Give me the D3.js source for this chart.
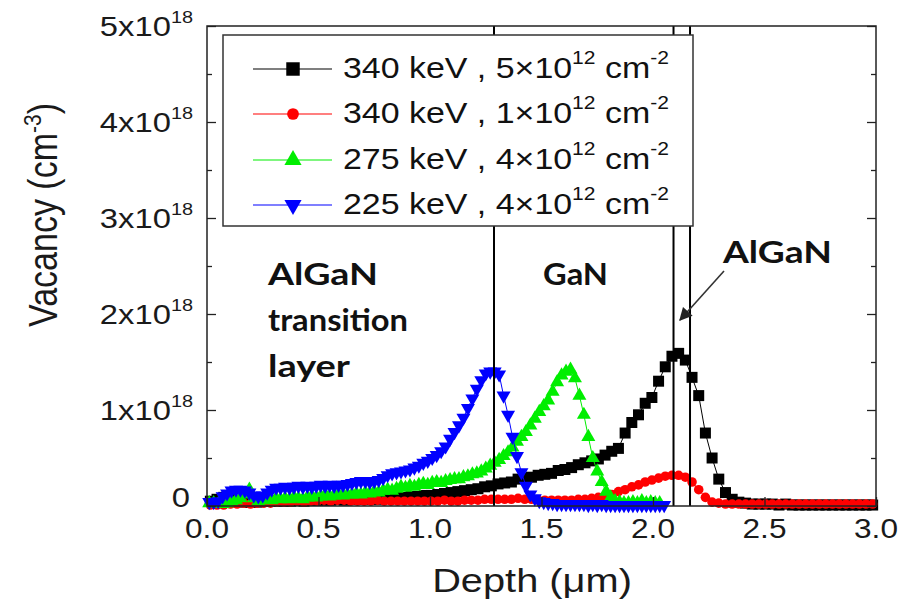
<!DOCTYPE html>
<html>
<head>
<meta charset="utf-8">
<script src="https://cdn.jsdelivr.net/npm/d3@7"></script>
<style>
  body { margin: 0; background: #fff; }
  svg { display: block; }
</style>
</head>
<body>
<svg id="chart" width="901" height="612"></svg>
<script>
// Vacancy depth profiles (values in units of 1e18 cm^-3), binned in depth (µm).
// 225 keV and 275 keV runs use 0.02 µm bins, the 340 keV runs 0.03 µm bins.
const fineStart = 0.01, fineStep = 0.02;
const coarseStart = 0.015, coarseStep = 0.03;

const black340 = [
  0.05,0.07,0.09,0.08,0.05,0.04,0.04,0.04,0.05,0.05,
  0.05,0.05,0.05,0.06,0.05,0.06,0.06,0.06,0.06,0.07,
  0.06,0.07,0.07,0.07,0.07,0.07,0.08,0.08,0.09,0.09,
  0.10,0.10,0.11,0.11,0.12,0.13,0.14,0.15,0.16,0.17,
  0.18,0.20,0.21,0.23,0.24,0.25,0.28,0.29,0.30,0.32,
  0.33,0.34,0.37,0.38,0.40,0.43,0.45,0.47,0.49,0.53,
  0.57,0.60,0.76,0.87,0.95,1.07,1.13,1.30,1.45,1.56,
  1.59,1.52,1.34,1.15,0.76,0.50,0.28,0.14,0.07,0.04,
  0.03,0.02,0.02,0.02,0.02,0.01,0.02,0.01,0.01,0.01,
  0.01,0.01,0.01,0.01,0.01,0.01,0.01,0.01,0.01,0.01
];

const red340 = [
  0.01,0.01,0.01,0.02,0.02,0.03,0.02,0.03,0.03,0.03,
  0.04,0.04,0.04,0.05,0.04,0.05,0.05,0.06,0.05,0.06,
  0.06,0.05,0.05,0.05,0.05,0.06,0.05,0.05,0.05,0.05,
  0.05,0.05,0.05,0.05,0.05,0.06,0.05,0.05,0.06,0.06,
  0.06,0.07,0.07,0.07,0.07,0.07,0.08,0.07,0.07,0.06,
  0.06,0.06,0.06,0.06,0.06,0.07,0.07,0.08,0.09,0.10,
  0.12,0.15,0.17,0.20,0.22,0.25,0.27,0.29,0.31,0.32,
  0.32,0.30,0.25,0.17,0.09,0.04,0.03,0.02,0.02,0.02,
  0.02,0.02,0.02,0.02,0.02,0.02,0.02,0.02,0.02,0.02,
  0.02,0.02,0.02,0.02,0.02,0.02,0.02,0.02,0.02,0.02
];

const green275 = [
  0.03,0.03,0.02,0.02,0.03,0.05,0.06,0.08,0.12,0.17,
  0.08,0.05,0.06,0.07,0.06,0.08,0.07,0.08,0.07,0.09,
  0.08,0.07,0.09,0.10,0.09,0.10,0.12,0.10,0.11,0.12,
  0.11,0.12,0.12,0.13,0.12,0.14,0.13,0.15,0.14,0.16,
  0.17,0.16,0.18,0.20,0.19,0.21,0.20,0.22,0.23,0.22,
  0.24,0.25,0.24,0.26,0.27,0.28,0.28,0.30,0.31,0.33,
  0.34,0.36,0.39,0.42,0.45,0.48,0.52,0.56,0.61,0.67,
  0.72,0.77,0.84,0.91,0.98,1.04,1.10,1.19,1.29,1.36,
  1.40,1.42,1.33,1.15,0.95,0.72,0.50,0.36,0.25,0.15,
  0.09,0.05,0.04,0.03,0.03,0.04,0.03,0.05,0.03,0.04,
  0.03,0.03
];

const blue225 = [
  0.04,0.04,0.05,0.10,0.13,0.16,0.17,0.17,0.16,0.14,
  0.11,0.10,0.11,0.14,0.17,0.19,0.19,0.20,0.19,0.20,
  0.21,0.20,0.21,0.20,0.21,0.22,0.21,0.22,0.21,0.22,
  0.22,0.23,0.24,0.25,0.26,0.26,0.25,0.26,0.27,0.29,
  0.32,0.34,0.35,0.36,0.37,0.38,0.40,0.42,0.45,0.47,
  0.50,0.53,0.57,0.62,0.70,0.77,0.84,0.92,1.02,1.12,
  1.22,1.31,1.38,1.40,1.40,1.37,1.15,0.95,0.72,0.52,
  0.35,0.21,0.12,0.08,0.05,0.04,0.03,0.03,0.02,0.02,
  0.02,0.02,0.02,0.02,0.02,0.01,0.02,0.01,0.02,0.01,
  0.01,0.01,0.01,0.01,0.01,0.01,0.01,0.01,0.01,0.01,
  0.01,0.01,0.01
];

// Layer boundaries (µm)
const boundaries = [1.287, 2.092, 2.166];

// Axis ticks and labels
const xTicks = [0, 0.5, 1.0, 1.5, 2.0, 2.5, 3.0];
const xTickLabels = ["0.0", "0.5", "1.0", "1.5", "2.0", "2.5", "3.0"];
const yTicks = [0, 1, 2, 3, 4, 5];
const yTickLabels = ["0", "1x10", "2x10", "3x10", "4x10", "5x10"];
const yTickExponent = "18";
const yMinorTicks = [0.5, 1.5, 2.5, 3.5, 4.5];

// Legend entries
const seriesNames = [
  { energy: "340 keV , ", mant: "5\u00d710" },
  { energy: "340 keV , ", mant: "1\u00d710" },
  { energy: "275 keV , ", mant: "4\u00d710" },
  { energy: "225 keV , ", mant: "4\u00d710" }
];
const seriesColors = ["#000000", "#ff0000", "#00ee00", "#0000ff"];

const SX = 1.17;            // horizontal stretch of the lettering
const sans = "'Liberation Sans', Arial, sans-serif";
const boldFont = "Lato, 'Open Sans', sans-serif";

const svg = d3.select("#chart");
const x = d3.scaleLinear().domain([0, 3]).range([207, 876]);
const y = d3.scaleLinear().domain([0, 5]).range([506, 26]);

function toPoints(vals, start, step) {
  return vals.map((v, i) => ({ d: start + i * step, v }));
}

const series = [
  { pts: toPoints(black340, coarseStart, coarseStep), color: seriesColors[0], shape: "square" },
  { pts: toPoints(red340, coarseStart, coarseStep), color: seriesColors[1], shape: "circle" },
  { pts: toPoints(green275, fineStart, fineStep), color: seriesColors[2], shape: "up" },
  { pts: toPoints(blue225, fineStart, fineStep), color: seriesColors[3], shape: "down" }
];

function symbolPath(shape, scale) {
  const k = scale || 1;
  if (shape === "square") return d3.symbol(d3.symbolSquare, 121 * k)();
  if (shape === "circle") return d3.symbol(d3.symbolCircle, 72 * k)();
  return d3.symbol(d3.symbolTriangle, 85 * k)();
}

// text with superscript pieces
function richText(g, parts, size, supSize, rise) {
  const t = g.append("text").attr("font-size", size);
  let cur = 0;
  parts.forEach(p => {
    const target = p.sup ? -rise : 0;
    t.append("tspan")
      .attr("dy", target - cur)
      .attr("font-size", p.sup ? supSize : size)
      .text(p.t);
    cur = target;
  });
  return t;
}

// ---- data marks ----
const plot = svg.append("g");
const line = d3.line().x(p => x(p.d)).y(p => y(p.v));
series.forEach(s => {
  const g = plot.append("g");
  g.append("path").attr("d", line(s.pts))
    .attr("fill", "none").attr("stroke", s.color).attr("stroke-width", 1);
  g.selectAll("path.m").data(s.pts).join("path").attr("class", "m")
    .attr("d", symbolPath(s.shape))
    .attr("transform", p => `translate(${x(p.d)},${y(p.v)})` + (s.shape === "down" ? " rotate(180)" : ""))
    .attr("fill", s.color);
});

// ---- layer boundaries ----
svg.append("g").selectAll("line").data(boundaries).join("line")
  .attr("x1", d => x(d)).attr("x2", d => x(d))
  .attr("y1", y(5)).attr("y2", y(0))
  .attr("stroke", "#000").attr("stroke-width", 2);

// ---- axes / ticks ----
function tickAxis(axis, transform) {
  const g = svg.append("g").attr("transform", transform).call(axis);
  g.select(".domain").remove();
  g.selectAll("line").attr("stroke", "#222").attr("stroke-width", 1.3);
  g.selectAll("text").remove();
}
tickAxis(d3.axisLeft(y).tickValues(yTicks).tickSize(-9), `translate(${x(0)},0)`);
tickAxis(d3.axisLeft(y).tickValues(yMinorTicks).tickSize(-5), `translate(${x(0)},0)`);
tickAxis(d3.axisRight(y).tickValues(yTicks).tickSize(-9), `translate(${x(3)},0)`);
tickAxis(d3.axisRight(y).tickValues(yMinorTicks).tickSize(-5), `translate(${x(3)},0)`);
tickAxis(d3.axisBottom(x).tickValues(xTicks).tickSize(-9), `translate(0,${y(0)})`);

svg.append("rect")
  .attr("x", x(0)).attr("y", y(5))
  .attr("width", x(3) - x(0)).attr("height", y(0) - y(5))
  .attr("fill", "none").attr("stroke", "#222").attr("stroke-width", 1.5);

// tick labels
const labelCol = "#1a1a1a";
xTicks.forEach((t, i) => {
  svg.append("g")
    .attr("transform", `translate(${x(t)},${y(0) + 32}) scale(${SX},1)`)
    .append("text").attr("text-anchor", "middle")
    .attr("font-family", sans).attr("font-size", 27).attr("fill", labelCol)
    .text(xTickLabels[i]);
});
yTicks.forEach((t, i) => {
  const base = i === 0 ? y(t) + 1 : y(t) + 10;
  const g = svg.append("g")
    .attr("transform", `translate(${i === 0 ? 190 : 193},${base}) scale(${SX},1)`)
    .attr("font-family", sans).attr("fill", labelCol);
  const parts = i === 0 ? [{ t: yTickLabels[i] }] : [{ t: yTickLabels[i] }, { t: yTickExponent, sup: true }];
  richText(g, parts, 28, 17, 13).attr("text-anchor", "end");
});

// axis titles
{
  const g = svg.append("g")
    .attr("transform", `translate(532,592) scale(${SX},1)`)
    .attr("font-family", sans).attr("fill", labelCol);
  g.append("text").attr("text-anchor", "middle").attr("font-size", 34)
    .text("Depth (\u03bcm)");
}
{
  const g = svg.append("g")
    .attr("transform", `translate(57,215) rotate(-90) scale(1,${SX})`)
    .attr("font-family", sans).attr("fill", labelCol);
  richText(g, [{ t: "Vacancy (cm" }, { t: "-3", sup: true }, { t: ")" }], 34, 21, 14)
    .attr("text-anchor", "middle");
}

// region labels, fitted to their lettering width
function boldLabel(px, py, str, width) {
  svg.append("text")
    .attr("x", px).attr("y", py)
    .attr("font-family", boldFont).attr("font-weight", 700)
    .attr("font-size", 31).attr("fill", "#111")
    .attr("textLength", width).attr("lengthAdjust", "spacingAndGlyphs")
    .text(str);
}
boldLabel(268, 285, "AlGaN", 110);
boldLabel(268, 331, "transition", 140);
boldLabel(268, 377, "layer", 82);
boldLabel(543, 285, "GaN", 65);
boldLabel(723, 263, "AlGaN", 109);

// arrow pointing at the AlGaN barrier
svg.append("defs").append("marker")
  .attr("id", "arrowHead").attr("viewBox", "0 0 10 10")
  .attr("refX", 9).attr("refY", 5)
  .attr("markerWidth", 15).attr("markerHeight", 13)
  .attr("markerUnits", "userSpaceOnUse").attr("orient", "auto")
  .append("path").attr("d", "M0,0 L10,5 L0,10 Z").attr("fill", "#222");
svg.append("line")
  .attr("x1", 724).attr("y1", 271).attr("x2", 680).attr("y2", 320)
  .attr("stroke", "#333").attr("stroke-width", 1.6)
  .attr("marker-end", "url(#arrowHead)");

// ---- legend ----
const lg = svg.append("g");
lg.append("rect").attr("x", 223).attr("y", 35).attr("width", 470).attr("height", 191)
  .attr("fill", "#fff").attr("stroke", "#333").attr("stroke-width", 1.5);
const rowY = [69, 114, 160, 205];
const legendShapes = ["square", "circle", "up", "down"];
seriesNames.forEach((s, i) => {
  const ry = rowY[i];
  lg.append("line").attr("x1", 253).attr("x2", 332).attr("y1", ry).attr("y2", ry)
    .attr("stroke", seriesColors[i]).attr("stroke-width", 1.2);
  lg.append("path").attr("d", symbolPath(legendShapes[i], 1.5))
    .attr("transform", `translate(293,${ry})` + (legendShapes[i] === "down" ? " rotate(180)" : ""))
    .attr("fill", seriesColors[i]);
  const g = lg.append("g")
    .attr("transform", `translate(343,${ry + 9}) scale(${SX},1)`)
    .attr("font-family", sans).attr("fill", "#111");
  richText(g, [
    { t: s.energy + s.mant }, { t: "12", sup: true },
    { t: " cm" }, { t: "-2", sup: true }
  ], 29, 18, 14);
});
</script>
</body>
</html>
